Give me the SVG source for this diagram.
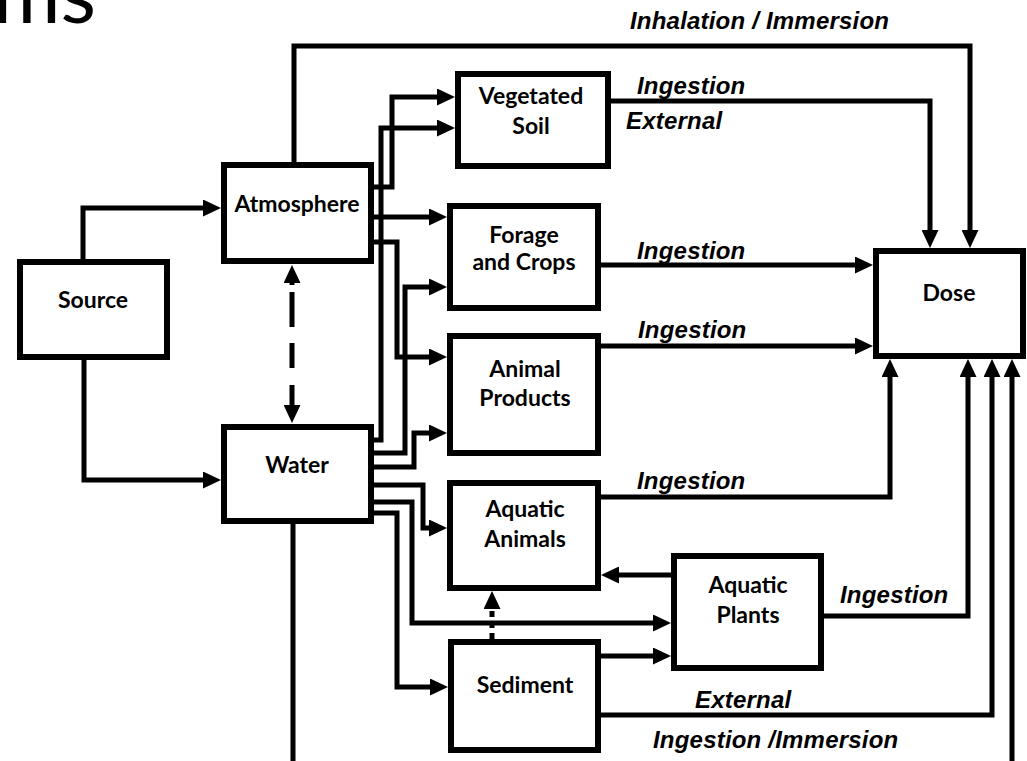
<svg xmlns="http://www.w3.org/2000/svg" width="1027" height="761" viewBox="0 0 1027 761">
<defs>
<marker id="ah" markerUnits="userSpaceOnUse" markerWidth="18" markerHeight="17" viewBox="0 0 18 17" refX="12" refY="8.5" orient="auto-start-reverse">
<path d="M0,0 L18,8.5 L0,17 z" fill="#000"/>
</marker>
<style>
.box{fill:#fff;stroke:#000;stroke-width:6}
.lbl{font-family:Lato,"Open Sans",sans-serif;font-weight:bold;font-size:23px;fill:#000;text-anchor:middle}
.edge{fill:none;stroke:#000;stroke-width:5;stroke-linejoin:miter}
.arr{marker-end:url(#ah)}
.el{font-family:"Liberation Sans",Arial,sans-serif;font-weight:bold;font-style:italic;font-size:24px;fill:#000;letter-spacing:0.2px}
</style>
</defs>
<rect width="1027" height="761" fill="#fff"/>
<text x="96" y="23" font-family="Lato,'Open Sans',sans-serif" font-size="82" text-anchor="end" fill="#000">ms</text>

<g id="connectors">
<path class="edge arr" d="M83,262 V208 H215"/>
<path class="edge arr" d="M84,360 V480 H215"/>
<path class="edge" d="M292,271 V417" stroke-width="6" stroke-dasharray="14 7 35 16 25 17 40" marker-start="url(#ah)" marker-end="url(#ah)"/>
<path class="edge arr" d="M294,165 V46 H970 V242"/>
<path class="edge arr" d="M371,187 H392 V97 H449"/>
<path class="edge arr" d="M371,440 H381 V128 H449"/>
<path class="edge arr" d="M368,217 H441"/>
<path class="edge arr" d="M371,242 H397 V357 H441"/>
<path class="edge arr" d="M371,453 H405 V287 H441"/>
<path class="edge arr" d="M371,467 H414 V433 H441"/>
<path class="edge arr" d="M371,485 H423 V528 H441"/>
<path class="edge arr" d="M371,502 H412 V623 H665"/>
<path class="edge arr" d="M371,513 H397 V687 H442"/>
<path class="edge arr" d="M598,656 H665"/>
<path class="edge arr" d="M674,575 H607"/>
<path class="edge arr" d="M492,639 V597" stroke-dasharray="6 5"/>
<path class="edge arr" d="M608,101 H930 V242"/>
<path class="edge arr" d="M598,265 H867"/>
<path class="edge arr" d="M598,346 H867"/>
<path class="edge arr" d="M598,497 H890 V365"/>
<path class="edge arr" d="M821,616 H968 V365"/>
<path class="edge arr" d="M598,715 H992 V365"/>
<path class="edge arr" d="M293,521 V790 H1012 V365"/>
<text class="el" x="630" y="29">Inhalation / Immersion</text>
<text class="el" x="637" y="94">Ingestion</text>
<text class="el" x="626" y="129">External</text>
<text class="el" x="637" y="259">Ingestion</text>
<text class="el" x="638" y="338">Ingestion</text>
<text class="el" x="637" y="489">Ingestion</text>
<text class="el" x="840" y="603">Ingestion</text>
<text class="el" x="695" y="708">External</text>
<text class="el" x="653" y="748">Ingestion /Immersion</text>
</g>

<g id="source"><rect class="box" x="20" y="262" width="147" height="95"/><text class="lbl" x="93" y="308">Source</text></g>
<g id="atmosphere"><rect class="box" x="224" y="165" width="147" height="96"/><text class="lbl" x="297" y="212">Atmosphere</text></g>
<g id="water"><rect class="box" x="224" y="427" width="147" height="94"/><text class="lbl" x="297" y="473">Water</text></g>
<g id="vegetated-soil"><rect class="box" x="458" y="74" width="150" height="92"/><text class="lbl" x="531" y="104">Vegetated</text><text class="lbl" x="531" y="134">Soil</text></g>
<g id="forage-crops"><rect class="box" x="450" y="206" width="148" height="102"/><text class="lbl" x="524" y="243">Forage</text><text class="lbl" x="524" y="270">and Crops</text></g>
<g id="animal-products"><rect class="box" x="450" y="336" width="148" height="117"/><text class="lbl" x="525" y="377">Animal</text><text class="lbl" x="525" y="406">Products</text></g>
<g id="aquatic-animals"><rect class="box" x="450" y="483" width="148" height="105"/><text class="lbl" x="525" y="517">Aquatic</text><text class="lbl" x="525" y="547">Animals</text></g>
<g id="aquatic-plants"><rect class="box" x="674" y="556" width="147" height="112"/><text class="lbl" x="748" y="593">Aquatic</text><text class="lbl" x="748" y="623">Plants</text></g>
<g id="sediment"><rect class="box" x="451" y="642" width="147" height="108"/><text class="lbl" x="525" y="693">Sediment</text></g>
<g id="dose"><rect class="box" x="876" y="251" width="147" height="105"/><text class="lbl" x="949" y="301">Dose</text></g>
</svg>
